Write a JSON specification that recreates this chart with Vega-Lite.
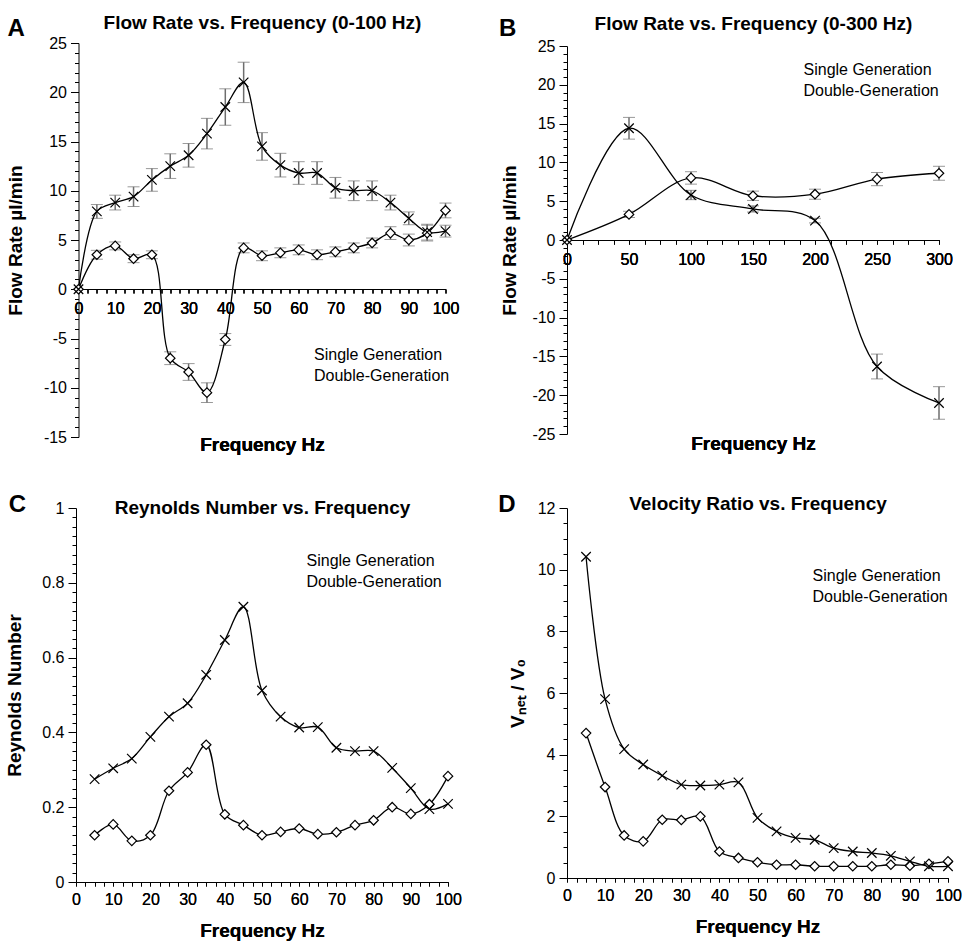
{
 "$schema": "https://vega.github.io/schema/vega-lite/v6.json",
 "background": "white",
 "padding": {"left": 5, "top": 13, "right": 10, "bottom": 5},
 "datasets": {
  "A": [
   {"f":0,"s":"Single Generation","v":0,"e":0},
   {"f":5,"s":"Single Generation","v":3.5,"e":0.45},
   {"f":10,"s":"Single Generation","v":4.4,"e":0.4},
   {"f":15,"s":"Single Generation","v":3.1,"e":0.4},
   {"f":20,"s":"Single Generation","v":3.5,"e":0.4},
   {"f":25,"s":"Single Generation","v":-7.0,"e":0.65},
   {"f":30,"s":"Single Generation","v":-8.4,"e":0.85},
   {"f":35,"s":"Single Generation","v":-10.5,"e":1.0},
   {"f":40,"s":"Single Generation","v":-5.1,"e":0.6},
   {"f":45,"s":"Single Generation","v":4.2,"e":0.5},
   {"f":50,"s":"Single Generation","v":3.4,"e":0.5},
   {"f":55,"s":"Single Generation","v":3.7,"e":0.5},
   {"f":60,"s":"Single Generation","v":4.0,"e":0.5},
   {"f":65,"s":"Single Generation","v":3.5,"e":0.5},
   {"f":70,"s":"Single Generation","v":3.8,"e":0.5},
   {"f":75,"s":"Single Generation","v":4.2,"e":0.5},
   {"f":80,"s":"Single Generation","v":4.7,"e":0.5},
   {"f":85,"s":"Single Generation","v":5.7,"e":0.65},
   {"f":90,"s":"Single Generation","v":5.0,"e":0.6},
   {"f":95,"s":"Single Generation","v":5.7,"e":0.8},
   {"f":100,"s":"Single Generation","v":8.0,"e":0.75},
   {"f":0,"s":"Double-Generation","v":0,"e":0},
   {"f":5,"s":"Double-Generation","v":7.9,"e":0.7},
   {"f":10,"s":"Double-Generation","v":8.8,"e":0.75},
   {"f":15,"s":"Double-Generation","v":9.4,"e":1.0},
   {"f":20,"s":"Double-Generation","v":11.1,"e":1.15},
   {"f":25,"s":"Double-Generation","v":12.5,"e":1.25},
   {"f":30,"s":"Double-Generation","v":13.6,"e":1.2},
   {"f":35,"s":"Double-Generation","v":15.8,"e":1.55},
   {"f":40,"s":"Double-Generation","v":18.5,"e":1.85},
   {"f":45,"s":"Double-Generation","v":21.0,"e":2.05},
   {"f":50,"s":"Double-Generation","v":14.5,"e":1.4},
   {"f":55,"s":"Double-Generation","v":12.6,"e":1.2},
   {"f":60,"s":"Double-Generation","v":11.8,"e":1.15},
   {"f":65,"s":"Double-Generation","v":11.8,"e":1.15},
   {"f":70,"s":"Double-Generation","v":10.3,"e":1.05},
   {"f":75,"s":"Double-Generation","v":10.0,"e":1.0},
   {"f":80,"s":"Double-Generation","v":10.0,"e":1.0},
   {"f":85,"s":"Double-Generation","v":8.8,"e":0.75},
   {"f":90,"s":"Double-Generation","v":7.2,"e":0.65},
   {"f":95,"s":"Double-Generation","v":5.8,"e":0.8},
   {"f":100,"s":"Double-Generation","v":5.9,"e":0.6}
  ],
  "B": [
   {"f":0,"s":"Single Generation","v":0,"e":0},
   {"f":50,"s":"Single Generation","v":3.3,"e":0.4},
   {"f":100,"s":"Single Generation","v":8.0,"e":0.8},
   {"f":150,"s":"Single Generation","v":5.7,"e":0.6},
   {"f":200,"s":"Single Generation","v":5.9,"e":0.65},
   {"f":250,"s":"Single Generation","v":7.85,"e":0.85},
   {"f":300,"s":"Single Generation","v":8.6,"e":0.9},
   {"f":0,"s":"Double-Generation","v":0,"e":0},
   {"f":50,"s":"Double-Generation","v":14.4,"e":1.4},
   {"f":100,"s":"Double-Generation","v":5.8,"e":0.6},
   {"f":150,"s":"Double-Generation","v":4.0,"e":0.4},
   {"f":200,"s":"Double-Generation","v":2.5,"e":0.3},
   {"f":250,"s":"Double-Generation","v":-16.3,"e":1.6},
   {"f":300,"s":"Double-Generation","v":-21.0,"e":2.1}
  ],
  "C": [
   {"f":5,"s":"Single Generation","v":0.125},
   {"f":10,"s":"Single Generation","v":0.154},
   {"f":15,"s":"Single Generation","v":0.110},
   {"f":20,"s":"Single Generation","v":0.125},
   {"f":25,"s":"Single Generation","v":0.244},
   {"f":30,"s":"Single Generation","v":0.293},
   {"f":35,"s":"Single Generation","v":0.367},
   {"f":40,"s":"Single Generation","v":0.181},
   {"f":45,"s":"Single Generation","v":0.152},
   {"f":50,"s":"Single Generation","v":0.125},
   {"f":55,"s":"Single Generation","v":0.134},
   {"f":60,"s":"Single Generation","v":0.143},
   {"f":65,"s":"Single Generation","v":0.128},
   {"f":70,"s":"Single Generation","v":0.133},
   {"f":75,"s":"Single Generation","v":0.152},
   {"f":80,"s":"Single Generation","v":0.165},
   {"f":85,"s":"Single Generation","v":0.200},
   {"f":90,"s":"Single Generation","v":0.182},
   {"f":95,"s":"Single Generation","v":0.208},
   {"f":100,"s":"Single Generation","v":0.283},
   {"f":5,"s":"Double-Generation","v":0.275},
   {"f":10,"s":"Double-Generation","v":0.304},
   {"f":15,"s":"Double-Generation","v":0.330},
   {"f":20,"s":"Double-Generation","v":0.388},
   {"f":25,"s":"Double-Generation","v":0.442},
   {"f":30,"s":"Double-Generation","v":0.478},
   {"f":35,"s":"Double-Generation","v":0.554},
   {"f":40,"s":"Double-Generation","v":0.647},
   {"f":45,"s":"Double-Generation","v":0.736},
   {"f":50,"s":"Double-Generation","v":0.512},
   {"f":55,"s":"Double-Generation","v":0.442},
   {"f":60,"s":"Double-Generation","v":0.413},
   {"f":65,"s":"Double-Generation","v":0.414},
   {"f":70,"s":"Double-Generation","v":0.359},
   {"f":75,"s":"Double-Generation","v":0.350},
   {"f":80,"s":"Double-Generation","v":0.350},
   {"f":85,"s":"Double-Generation","v":0.305},
   {"f":90,"s":"Double-Generation","v":0.251},
   {"f":95,"s":"Double-Generation","v":0.195},
   {"f":100,"s":"Double-Generation","v":0.209}
  ],
  "D": [
   {"f":5,"s":"Single Generation","v":4.7},
   {"f":10,"s":"Single Generation","v":2.95},
   {"f":15,"s":"Single Generation","v":1.38},
   {"f":20,"s":"Single Generation","v":1.19},
   {"f":25,"s":"Single Generation","v":1.89},
   {"f":30,"s":"Single Generation","v":1.88},
   {"f":35,"s":"Single Generation","v":2.0},
   {"f":40,"s":"Single Generation","v":0.86},
   {"f":45,"s":"Single Generation","v":0.65},
   {"f":50,"s":"Single Generation","v":0.51},
   {"f":55,"s":"Single Generation","v":0.43},
   {"f":60,"s":"Single Generation","v":0.43},
   {"f":65,"s":"Single Generation","v":0.38},
   {"f":70,"s":"Single Generation","v":0.38},
   {"f":75,"s":"Single Generation","v":0.38},
   {"f":80,"s":"Single Generation","v":0.38},
   {"f":85,"s":"Single Generation","v":0.43},
   {"f":90,"s":"Single Generation","v":0.40},
   {"f":95,"s":"Single Generation","v":0.46},
   {"f":100,"s":"Single Generation","v":0.54},
   {"f":5,"s":"Double-Generation","v":10.42},
   {"f":10,"s":"Double-Generation","v":5.8},
   {"f":15,"s":"Double-Generation","v":4.18},
   {"f":20,"s":"Double-Generation","v":3.68},
   {"f":25,"s":"Double-Generation","v":3.32},
   {"f":30,"s":"Double-Generation","v":3.03},
   {"f":35,"s":"Double-Generation","v":3.0},
   {"f":40,"s":"Double-Generation","v":3.03},
   {"f":45,"s":"Double-Generation","v":3.1},
   {"f":50,"s":"Double-Generation","v":1.95},
   {"f":55,"s":"Double-Generation","v":1.51},
   {"f":60,"s":"Double-Generation","v":1.3},
   {"f":65,"s":"Double-Generation","v":1.24},
   {"f":70,"s":"Double-Generation","v":0.97},
   {"f":75,"s":"Double-Generation","v":0.86},
   {"f":80,"s":"Double-Generation","v":0.81},
   {"f":85,"s":"Double-Generation","v":0.72},
   {"f":90,"s":"Double-Generation","v":0.54},
   {"f":95,"s":"Double-Generation","v":0.38},
   {"f":100,"s":"Double-Generation","v":0.38}
  ]
 },
 "columns": 2,
 "bounds": "flush",
 "center": true,
 "spacing": {"row": 71, "column": 119},
 "concat": [
  {
   "width": 367, "height": 394,
   "title": {"text": "A", "anchor": "start", "frame": "bounds", "baseline": "alphabetic", "fontSize": 24, "offset": 0, "dy": 47, "dx": 1},
   "data": {"name": "A"},
   "encoding": {
    "x": {"field": "f", "type": "quantitative", "scale": {"domain": [0, 100], "nice": false, "zero": false},
     "axis": {"orient": "bottom", "title": "Frequency Hz", "values": [0,2.5,5,7.5,10,12.5,15,17.5,20,22.5,25,27.5,30,32.5,35,37.5,40,42.5,45,47.5,50,52.5,55,57.5,60,62.5,65,67.5,70,72.5,75,77.5,80,82.5,85,87.5,90,92.5,95,97.5,100],
      "labelExpr": "datum.value % 10 === 0 ? '' + datum.value : ''", "tickSize": 4, "labelPadding": 7, "offset": -148, "titleY": 161, "titleBaseline": "alphabetic"}},
    "y": {"field": "v", "type": "quantitative", "scale": {"domain": [-15, 25], "nice": false, "zero": false},
     "axis": {"orient": "left", "title": "Flow Rate µl/min", "values": [-15,-14,-13,-12,-11,-10,-9,-8,-7,-6,-5,-4,-3,-2,-1,0,1,2,3,4,5,6,7,8,9,10,11,12,13,14,15,16,17,18,19,20,21,22,23,24,25],
      "labelExpr": "datum.value % 5 === 0 ? '' + datum.value : ''",
      "tickSize": {"condition": {"test": "datum.value % 5 === 0", "value": 8}, "value": 4}, "labelPadding": 4, "titlePadding": 18}}
   },
   "layer": [
    {"transform": [{"filter": "datum.e > 0"}],
     "mark": {"type": "errorbar", "ticks": {"size": 12, "color": "#6e6e6e", "strokeWidth": 1.3}, "rule": {"color": "#6e6e6e", "strokeWidth": 1.5}},
     "encoding": {"yError": {"field": "e"}}},
    {"mark": {"type": "line", "interpolate": "catmull-rom", "color": "black", "strokeWidth": 1.3},
     "encoding": {"detail": {"field": "s"},
      "x": {"field": "f", "type": "quantitative", "scale": {"domain": [0, 100], "nice": false, "zero": false},
       "axis": {"orient": "top", "labels": false, "ticks": false, "domain": false, "title": "Flow Rate vs. Frequency (0-100 Hz)", "titleY": -15, "titleBaseline": "alphabetic"}}}},
    {"mark": {"type": "point", "filled": false, "color": "black", "fill": "white", "stroke": "black", "strokeWidth": 1.2, "size": 90, "opacity": 1},
     "encoding": {"shape": {"field": "s", "type": "nominal", "scale": {"domain": ["Single Generation", "Double-Generation"], "range": ["diamond", "M-1,-1L1,1M-1,1L1,-1"]}, "legend": null}}},
    {"transform": [{"filter": "datum.f < 0"}],
     "mark": {"type": "point", "filled": false, "color": "black", "fill": "white", "stroke": "black", "opacity": 1},
     "encoding": {"shape": {"field": "s", "type": "nominal", "scale": {"domain": ["Single Generation", "Double-Generation"], "range": ["M-2.15,0L-0.5,0M0.5,0L2.15,0M-0.5,0L0,-0.5L0.5,0L0,0.5Z", "M-2.15,0L2.15,0M-0.6,-0.5L0.6,0.5M-0.6,0.5L0.6,-0.5"]},
      "legend": {"title": null, "orient": "none", "legendX": 186, "legendY": 301,
       "encode": {"symbols": {"update": {"x": {"value": 21.5}, "y": {"value": 11}, "stroke": {"value": "black"}, "fill": {"value": "white"}, "strokeWidth": {"value": 1.3}, "opacity": {"value": 1}, "fillOpacity": {"value": 1}, "strokeOpacity": {"value": 1}, "size": {"value": 400}}}}}}}}
   ],
   "resolve": {"scale": {"shape": "independent"}, "legend": {"shape": "independent"}}
  },
  {
   "width": 372, "height": 388,
   "title": {"text": "B", "anchor": "start", "frame": "bounds", "baseline": "alphabetic", "fontSize": 24, "offset": 0, "dy": 46, "dx": -2},
   "data": {"name": "B"},
   "encoding": {
    "x": {"field": "f", "type": "quantitative", "scale": {"domain": [0, 300], "nice": false, "zero": false},
     "axis": {"orient": "bottom", "title": "Frequency Hz", "values": [0,12.5,25,37.5,50,62.5,75,87.5,100,112.5,125,137.5,150,162.5,175,187.5,200,212.5,225,237.5,250,262.5,275,287.5,300],
      "labelExpr": "datum.value % 50 === 0 ? '' + datum.value : ''", "tickSize": 4, "labelPadding": 7, "offset": -194, "titleY": 209, "titleBaseline": "alphabetic"}},
    "y": {"field": "v", "type": "quantitative", "scale": {"domain": [-25, 25], "nice": false, "zero": false},
     "axis": {"orient": "left", "title": "Flow Rate µl/min", "values": [-25,-24,-23,-22,-21,-20,-19,-18,-17,-16,-15,-14,-13,-12,-11,-10,-9,-8,-7,-6,-5,-4,-3,-2,-1,0,1,2,3,4,5,6,7,8,9,10,11,12,13,14,15,16,17,18,19,20,21,22,23,24,25],
      "labelExpr": "datum.value % 5 === 0 ? '' + datum.value : ''",
      "tickSize": {"condition": {"test": "datum.value % 5 === 0", "value": 8}, "value": 4}, "labelPadding": 4, "titlePadding": 12}}
   },
   "layer": [
    {"transform": [{"filter": "datum.e > 0"}],
     "mark": {"type": "errorbar", "ticks": {"size": 12, "color": "#6e6e6e", "strokeWidth": 1.3}, "rule": {"color": "#6e6e6e", "strokeWidth": 1.5}},
     "encoding": {"yError": {"field": "e"}}},
    {"mark": {"type": "line", "interpolate": "catmull-rom", "color": "black", "strokeWidth": 1.3},
     "encoding": {"detail": {"field": "s"},
      "x": {"field": "f", "type": "quantitative", "scale": {"domain": [0, 300], "nice": false, "zero": false},
       "axis": {"orient": "top", "labels": false, "ticks": false, "domain": false, "title": "Flow Rate vs. Frequency (0-300 Hz)", "titleY": -17, "titleBaseline": "alphabetic"}}}},
    {"mark": {"type": "point", "filled": false, "color": "black", "fill": "white", "stroke": "black", "strokeWidth": 1.2, "size": 90, "opacity": 1},
     "encoding": {"shape": {"field": "s", "type": "nominal", "scale": {"domain": ["Single Generation", "Double-Generation"], "range": ["diamond", "M-1,-1L1,1M-1,1L1,-1"]}, "legend": null}}},
    {"transform": [{"filter": "datum.f < 0"}],
     "mark": {"type": "point", "filled": false, "color": "black", "fill": "white", "stroke": "black", "opacity": 1},
     "encoding": {"shape": {"field": "s", "type": "nominal", "scale": {"domain": ["Single Generation", "Double-Generation"], "range": ["M-2.15,0L-0.5,0M0.5,0L2.15,0M-0.5,0L0,-0.5L0.5,0L0,0.5Z", "M-2.15,0L2.15,0M-0.6,-0.5L0.6,0.5M-0.6,0.5L0.6,-0.5"]},
      "legend": {"title": null, "orient": "none", "legendX": 187, "legendY": 13,
       "encode": {"symbols": {"update": {"x": {"value": 21.5}, "y": {"value": 11}, "stroke": {"value": "black"}, "fill": {"value": "white"}, "strokeWidth": {"value": 1.3}, "opacity": {"value": 1}, "fillOpacity": {"value": 1}, "strokeOpacity": {"value": 1}, "size": {"value": 400}}}}}}}}
   ],
   "resolve": {"scale": {"shape": "independent"}, "legend": {"shape": "independent"}}
  },
  {
   "width": 372, "height": 374,
   "title": {"text": "C", "anchor": "start", "frame": "bounds", "baseline": "alphabetic", "fontSize": 24, "offset": 0, "dy": 38, "dx": 3},
   "data": {"name": "C"},
   "encoding": {
    "x": {"field": "f", "type": "quantitative", "scale": {"domain": [0, 100], "nice": false, "zero": false},
     "axis": {"orient": "bottom", "title": "Frequency Hz", "values": [0,2.5,5,7.5,10,12.5,15,17.5,20,22.5,25,27.5,30,32.5,35,37.5,40,42.5,45,47.5,50,52.5,55,57.5,60,62.5,65,67.5,70,72.5,75,77.5,80,82.5,85,87.5,90,92.5,95,97.5,100],
      "labelExpr": "datum.value % 10 === 0 ? '' + datum.value : ''", "tickSize": 4, "labelPadding": 5, "titlePadding": 14}},
    "y": {"field": "v", "type": "quantitative", "scale": {"domain": [0, 1], "nice": false, "zero": false},
     "axis": {"orient": "left", "title": "Reynolds Number", "values": [0,0.025,0.05,0.075,0.1,0.125,0.15,0.175,0.2,0.225,0.25,0.275,0.3,0.325,0.35,0.375,0.4,0.425,0.45,0.475,0.5,0.525,0.55,0.575,0.6,0.625,0.65,0.675,0.7,0.725,0.75,0.775,0.8,0.825,0.85,0.875,0.9,0.925,0.95,0.975,1],
      "labelExpr": "abs(datum.value*5 - round(datum.value*5)) < 0.001 ? '' + datum.value : ''",
      "tickSize": {"condition": {"test": "abs(datum.value*5 - round(datum.value*5)) < 0.001", "value": 8}, "value": 4}, "labelPadding": 4, "titlePadding": 17}}
   },
   "layer": [
    {"mark": {"type": "line", "interpolate": "catmull-rom", "color": "black", "strokeWidth": 1.3},
     "encoding": {"detail": {"field": "s"},
      "x": {"field": "f", "type": "quantitative", "scale": {"domain": [0, 100], "nice": false, "zero": false},
       "axis": {"orient": "top", "labels": false, "ticks": false, "domain": false, "title": "Reynolds Number vs. Frequency", "titleY": 5, "titleBaseline": "alphabetic"}}}},
    {"mark": {"type": "point", "filled": false, "color": "black", "fill": "white", "stroke": "black", "strokeWidth": 1.2, "size": 90, "opacity": 1},
     "encoding": {"shape": {"field": "s", "type": "nominal", "scale": {"domain": ["Single Generation", "Double-Generation"], "range": ["diamond", "M-1,-1L1,1M-1,1L1,-1"]}, "legend": null}}},
    {"transform": [{"filter": "datum.f < 0"}],
     "mark": {"type": "point", "filled": false, "color": "black", "fill": "white", "stroke": "black", "opacity": 1},
     "encoding": {"shape": {"field": "s", "type": "nominal", "scale": {"domain": ["Single Generation", "Double-Generation"], "range": ["M-2.15,0L-0.5,0M0.5,0L2.15,0M-0.5,0L0,-0.5L0.5,0L0,0.5Z", "M-2.15,0L2.15,0M-0.6,-0.5L0.6,0.5M-0.6,0.5L0.6,-0.5"]},
      "legend": {"title": null, "orient": "none", "legendX": 181, "legendY": 42,
       "encode": {"symbols": {"update": {"x": {"value": 21.5}, "y": {"value": 11}, "stroke": {"value": "black"}, "fill": {"value": "white"}, "strokeWidth": {"value": 1.3}, "opacity": {"value": 1}, "fillOpacity": {"value": 1}, "strokeOpacity": {"value": 1}, "size": {"value": 400}}}}}}}}
   ],
   "resolve": {"scale": {"shape": "independent"}, "legend": {"shape": "independent"}}
  },
  {
   "width": 381, "height": 370,
   "title": {"text": "D", "anchor": "start", "frame": "bounds", "baseline": "alphabetic", "fontSize": 24, "offset": 0, "dy": 42, "dx": -10},
   "data": {"name": "D"},
   "encoding": {
    "x": {"field": "f", "type": "quantitative", "scale": {"domain": [0, 100], "nice": false, "zero": false},
     "axis": {"orient": "bottom", "title": "Frequency Hz", "values": [0,2.5,5,7.5,10,12.5,15,17.5,20,22.5,25,27.5,30,32.5,35,37.5,40,42.5,45,47.5,50,52.5,55,57.5,60,62.5,65,67.5,70,72.5,75,77.5,80,82.5,85,87.5,90,92.5,95,97.5,100],
      "labelExpr": "datum.value % 10 === 0 ? '' + datum.value : ''", "tickSize": 4, "labelPadding": 5, "titlePadding": 14}},
    "y": {"field": "v", "type": "quantitative", "scale": {"domain": [0, 12], "nice": false, "zero": false},
     "axis": {"orient": "left", "title": "Vₙₑₜ / V₀", "values": [0,0.5,1,1.5,2,2.5,3,3.5,4,4.5,5,5.5,6,6.5,7,7.5,8,8.5,9,9.5,10,10.5,11,11.5,12],
      "labelExpr": "datum.value % 2 === 0 ? '' + datum.value : ''",
      "tickSize": {"condition": {"test": "datum.value % 2 === 0", "value": 8}, "value": 4}, "labelPadding": 4, "titlePadding": 10}}
   },
   "layer": [
    {"mark": {"type": "line", "interpolate": "catmull-rom", "color": "black", "strokeWidth": 1.3},
     "encoding": {"detail": {"field": "s"},
      "x": {"field": "f", "type": "quantitative", "scale": {"domain": [0, 100], "nice": false, "zero": false},
       "axis": {"orient": "top", "labels": false, "ticks": false, "domain": false, "title": "Velocity Ratio vs. Frequency", "titleY": 1, "titleBaseline": "alphabetic"}}}},
    {"mark": {"type": "point", "filled": false, "color": "black", "fill": "white", "stroke": "black", "strokeWidth": 1.2, "size": 90, "opacity": 1},
     "encoding": {"shape": {"field": "s", "type": "nominal", "scale": {"domain": ["Single Generation", "Double-Generation"], "range": ["diamond", "M-1,-1L1,1M-1,1L1,-1"]}, "legend": null}}},
    {"transform": [{"filter": "datum.f < 0"}],
     "mark": {"type": "point", "filled": false, "color": "black", "fill": "white", "stroke": "black", "opacity": 1},
     "encoding": {"shape": {"field": "s", "type": "nominal", "scale": {"domain": ["Single Generation", "Double-Generation"], "range": ["M-2.15,0L-0.5,0M0.5,0L2.15,0M-0.5,0L0,-0.5L0.5,0L0,0.5Z", "M-2.15,0L2.15,0M-0.6,-0.5L0.6,0.5M-0.6,0.5L0.6,-0.5"]},
      "legend": {"title": null, "orient": "none", "legendX": 196, "legendY": 57,
       "encode": {"symbols": {"update": {"x": {"value": 21.5}, "y": {"value": 11}, "stroke": {"value": "black"}, "fill": {"value": "white"}, "strokeWidth": {"value": 1.3}, "opacity": {"value": 1}, "fillOpacity": {"value": 1}, "strokeOpacity": {"value": 1}, "size": {"value": 400}}}}}}}}
   ],
   "resolve": {"scale": {"shape": "independent"}, "legend": {"shape": "independent"}}
  }
 ],
 "config": {
  "view": {"stroke": null},
  "font": "Liberation Sans",
  "title": {"font": "Liberation Sans", "fontWeight": "bold", "color": "black"},
  "axis": {"grid": false, "labelFont": "Liberation Sans", "labelFontSize": 16, "labelColor": "black", "tickColor": "black", "tickWidth": 1, "domainColor": "black", "domainWidth": 1, "titleFont": "Liberation Sans", "titleFontSize": 19, "titleFontWeight": "bold", "titleColor": "black", "labelOverlap": false, "labelFlush": false, "labelBound": false},
  "legend": {"padding": 0, "symbolSize": 400, "symbolOffset": 11.5, "symbolStrokeColor": "black", "symbolFillColor": "white", "symbolStrokeWidth": 1.3, "rowPadding": 2, "labelFont": "Liberation Sans", "labelFontSize": 16, "labelColor": "black", "labelOffset": 16, "labelLimit": 300}
 }
}
